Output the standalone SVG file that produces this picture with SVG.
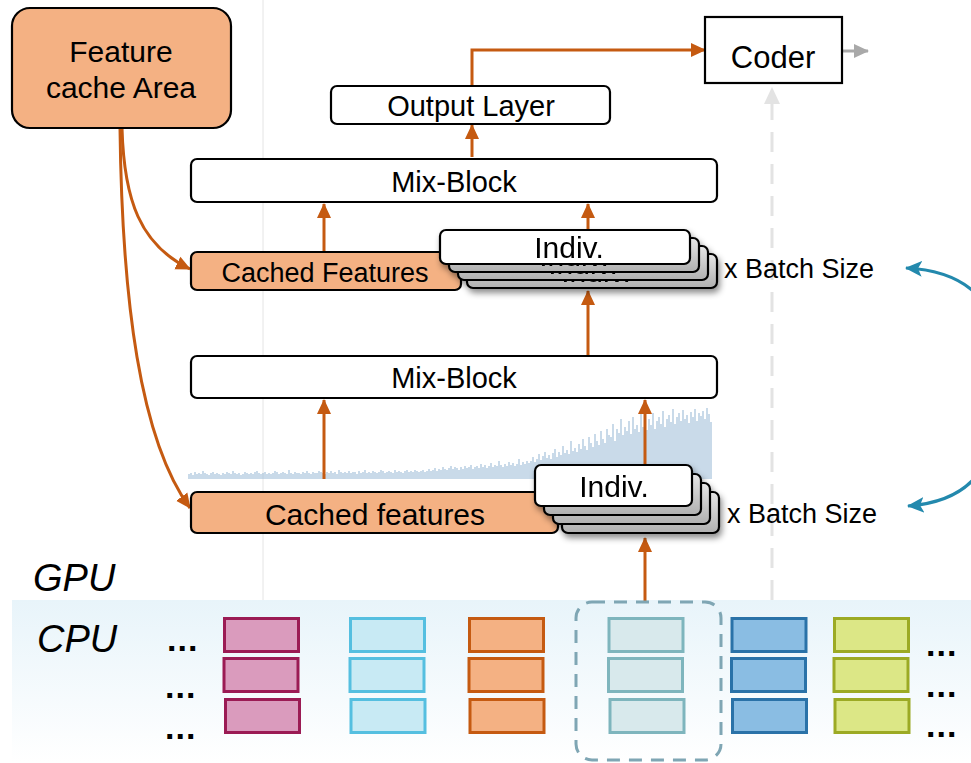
<svg xmlns="http://www.w3.org/2000/svg" width="971" height="763" viewBox="0 0 971 763">
  <defs>
    <style>
      .lbl { font-family: "Liberation Sans", Arial, sans-serif; fill: #000; text-anchor: middle; }
      .lft { font-family: "Liberation Sans", Arial, sans-serif; fill: #000; text-anchor: start; }
      .box { fill: #fff; stroke: #000; stroke-width: 2.2; }
      .cache { fill: #F4B183; stroke: #000; stroke-width: 2.2; }
      .card { stroke: #000; stroke-width: 2.2; }
      .flow { fill: none; stroke: #C55A11; stroke-width: 3; }
      .sync { fill: none; stroke: #2389AD; stroke-width: 3.2; }
      .dots { font-family: "Liberation Sans", Arial, sans-serif; font-weight: bold; font-size: 34px; fill: #000; letter-spacing: 1px; }
      .side { font-family: "Liberation Sans", Arial, sans-serif; font-style: italic; font-size: 38px; fill: #000; }
      .mem { stroke-width: 3; }
    </style>
    <marker id="ah" markerUnits="userSpaceOnUse" markerWidth="16" markerHeight="16" viewBox="0 0 16 16" refX="14" refY="8" orient="auto">
      <path d="M0 1 L15 8 L0 15 Z" fill="#C55A11"/>
    </marker>
    <marker id="ahTeal" markerUnits="userSpaceOnUse" markerWidth="18" markerHeight="18" viewBox="0 0 18 18" refX="16" refY="9" orient="auto">
      <path d="M0 1 L17 9 L0 17 L4 9 Z" fill="#2389AD"/>
    </marker>
    <marker id="ahGray" markerUnits="userSpaceOnUse" markerWidth="16" markerHeight="16" viewBox="0 0 16 16" refX="14" refY="8" orient="auto">
      <path d="M0 1 L15 8 L0 15 Z" fill="#a9a9a9"/>
    </marker>
    <marker id="ahLight" markerUnits="userSpaceOnUse" markerWidth="18" markerHeight="18" viewBox="0 0 18 18" refX="16" refY="9" orient="auto">
      <path d="M0 1 L17 9 L0 17 Z" fill="#e3e3e3"/>
    </marker>
    <linearGradient id="cpuBand" x1="0" y1="0" x2="0" y2="1">
      <stop offset="0" stop-color="#e8f4fa"/>
      <stop offset="1" stop-color="#ffffff"/>
    </linearGradient>
    <linearGradient id="cardGray" x1="0" y1="0" x2="0" y2="1">
      <stop offset="0" stop-color="#e6e6e6"/>
      <stop offset="1" stop-color="#b0b0b0"/>
    </linearGradient>
    <filter id="shadow" x="-20%" y="-30%" width="140%" height="180%">
      <feDropShadow dx="2" dy="4" stdDeviation="3" flood-color="#000" flood-opacity="0.45"/>
    </filter>
  </defs>

  <!-- CPU memory band -->
  <rect x="12" y="600" width="959" height="163" fill="url(#cpuBand)"/>

  <!-- thin guide line -->
  <line x1="263" y1="0" x2="263" y2="600" stroke="#e4e4e4" stroke-width="1"/>

  <!-- dashed feedback line into the coder -->
  <line x1="772" y1="600" x2="772" y2="88" stroke="#e3e3e3" stroke-width="3" stroke-dasharray="20 12" marker-end="url(#ahLight)"/>

  <!-- access frequency histogram -->
  <path id="histogram" fill="none" stroke="#9dbcd7" stroke-width="1.1" d="M189 479v-5m2 5v-6m2 6v-4m2 4v-7m2 7v-5m2 5v-6m2 6v-5m2 5v-8m2 8v-6m2 6v-5m2 5v-4m2 4v-6m2 6v-7m2 7v-5m2 5v-6m2 6v-5m2 5v-4m2 4v-6m2 6v-5m2 5v-7m2 7v-6m2 6v-5m2 5v-8m2 8v-6m2 6v-5m2 5v-6m2 6v-4m2 4v-5m2 5v-7m2 7v-6m2 6v-5m2 5v-6m2 6v-5m2 5v-7m2 7v-8m2 8v-6m2 6v-5m2 5v-6m2 6v-7m2 7v-5m2 5v-6m2 6v-5m2 5v-6m2 6v-8m2 8v-7m2 7v-5m2 5v-6m2 6v-7m2 7v-6m2 6v-5m2 5v-9m2 9v-6m2 6v-5m2 5v-7m2 7v-6m2 6v-6m2 6v-5m2 5v-7m2 7v-6m2 6v-8m2 8v-6m2 6v-5m2 5v-7m2 7v-6m2 6v-6m2 6v-8m2 8v-7m2 7v-6m2 6v-5m2 5v-7m2 7v-6m2 6v-8m2 8v-6m2 6v-7m2 7v-5m2 5v-9m2 9v-7m2 7v-6m2 6v-7m2 7v-6m2 6v-8m2 8v-6m2 6v-7m2 7v-7m2 7v-5m2 5v-8m2 8v-6m2 6v-7m2 7v-9m2 9v-6m2 6v-7m2 7v-6m2 6v-8m2 8v-7m2 7v-6m2 6v-7m2 7v-9m2 9v-8m2 8v-6m2 6v-7m2 7v-8m2 8v-7m2 7v-6m2 6v-9m2 9v-7m2 7v-8m2 8v-7m2 7v-6m2 6v-8m2 8v-9m2 9v-7m2 7v-8m2 8v-7m2 7v-9m2 9v-8m2 8v-7m2 7v-8m2 8v-9m2 9v-7m2 7v-8m2 8v-10m2 10v-8m2 8v-9m2 9v-11m2 11v-8m2 8v-10m2 10v-9m2 9v-12m2 12v-10m2 10v-9m2 9v-11m2 11v-13m2 13v-10m2 10v-12m2 12v-11m2 11v-9m2 9v-12m2 12v-10m2 10v-13m2 13v-11m2 11v-12m2 12v-14m2 14v-10m2 10v-12m2 12v-13m2 13v-11m2 11v-15m2 15v-12m2 12v-14m2 14v-11m2 11v-13m2 13v-16m2 16v-12m2 12v-14m2 14v-13m2 13v-18m2 18v-14m2 14v-12m2 12v-15m2 15v-13m2 13v-17m2 17v-14m2 14v-16m2 16v-13m2 13v-15m2 15v-20m2 20v-14m2 14v-17m2 17v-15m2 15v-18m2 18v-16m2 16v-18m2 18v-22m2 22v-17m2 17v-20m2 20v-25m2 25v-19m2 19v-23m2 23v-27m2 27v-21m2 21v-24m2 24v-20m2 20v-26m2 26v-30m2 30v-22m2 22v-27m2 27v-24m2 24v-33m2 33v-26m2 26v-29m2 29v-25m2 25v-38m2 38v-28m2 28v-31m2 31v-27m2 27v-35m2 35v-30m2 30v-40m2 40v-33m2 33v-29m2 29v-42m2 42v-36m2 36v-32m2 32v-45m2 45v-38m2 38v-34m2 34v-48m2 48v-40m2 40v-36m2 36v-50m2 50v-44m2 44v-42m2 42v-55m2 55v-38m2 38v-50m2 50v-46m2 46v-60m2 60v-44m2 44v-52m2 52v-48m2 48v-58m2 58v-45m2 45v-62m2 62v-50m2 50v-54m2 54v-47m2 47v-65m2 65v-52m2 52v-57m2 57v-49m2 49v-60m2 60v-54m2 54v-66m2 66v-50m2 50v-58m2 58v-62m2 62v-55m2 55v-68m2 68v-52m2 52v-60m2 60v-64m2 64v-57m2 57v-70m2 70v-55m2 55v-62m2 62v-66m2 66v-58m2 58v-69m2 69v-60m2 60v-64m2 64v-56m2 56v-67m2 67v-62m2 62v-70m2 70v-58m2 58v-66m2 66v-63m2 63v-68m2 68v-60m2 60v-71m2 71v-65m2 65v-57"/>

  <!-- connectors -->
  <g id="connectors">
    <path class="flow" d="M122 128 C 124 200, 140 245, 190 269" marker-end="url(#ah)"/>
    <path class="flow" d="M120 128 C 122 300, 140 440, 190 508" marker-end="url(#ah)"/>
    <path class="flow" d="M472 85 V 50 H 705" marker-end="url(#ah)"/>
    <line class="flow" x1="472" y1="157" x2="472" y2="125" marker-end="url(#ah)"/>
    <line class="flow" x1="324" y1="252" x2="324" y2="204" marker-end="url(#ah)"/>
    <line class="flow" x1="588" y1="232" x2="588" y2="204" marker-end="url(#ah)"/>
    <line class="flow" x1="588" y1="356" x2="588" y2="291" marker-end="url(#ah)"/>
    <line class="flow" x1="324" y1="479" x2="324" y2="400" marker-end="url(#ah)"/>
    <line class="flow" x1="645" y1="466" x2="645" y2="400" marker-end="url(#ah)"/>
    <line class="flow" x1="645" y1="601" x2="645" y2="538" marker-end="url(#ah)"/>
    <line x1="840" y1="51" x2="868" y2="51" stroke="#a9a9a9" stroke-width="3" marker-end="url(#ahGray)"/>
    <path class="sync" d="M972 290 Q 948 270 906 268" marker-end="url(#ahTeal)"/>
    <path class="sync" d="M972 481 Q 950 503 908 506" marker-end="url(#ahTeal)"/>
  </g>

  <!-- feature cache -->
  <g id="feature-cache">
    <rect class="cache" x="12" y="8" width="219" height="120" rx="18"/>
    <text class="lbl" x="121" y="62" font-size="30">Feature</text>
    <text class="lbl" x="121" y="98" font-size="30">cache Area</text>
  </g>

  <!-- coder -->
  <g id="coder">
    <rect class="box" x="705" y="17" width="137" height="66"/>
    <text class="lbl" x="773" y="68" font-size="31">Coder</text>
  </g>

  <!-- output layer -->
  <g id="output-layer">
    <rect class="box" x="331" y="86" width="279" height="38" rx="6"/>
    <text class="lbl" x="471" y="116" font-size="29">Output Layer</text>
  </g>

  <!-- mix blocks -->
  <g id="mix-block-2">
    <rect class="box" x="191" y="159" width="526" height="43" rx="6"/>
    <text class="lbl" x="454" y="192" font-size="29">Mix-Block</text>
  </g>
  <g id="mix-block-1">
    <rect class="box" x="191" y="356" width="526" height="42" rx="6"/>
    <text class="lbl" x="454" y="388" font-size="29">Mix-Block</text>
  </g>

  <!-- cached features, upper level -->
  <g id="cached-upper">
    <rect class="cache" x="191" y="252" width="270" height="38" rx="6"/>
    <text class="lbl" x="325" y="282" font-size="27">Cached Features</text>
  </g>

  <!-- individual features, upper level -->
  <g id="indiv-upper" filter="url(#shadow)">
    <rect class="card" fill="url(#cardGray)" x="467" y="254" width="250" height="34" rx="6"/>
    <text class="lbl" x="596" y="282" font-size="30">Indiv.</text>
    <rect class="card" fill="url(#cardGray)" x="458" y="246" width="250" height="34" rx="6"/>
    <text class="lbl" x="583" y="274" font-size="30">Indiv.</text>
    <rect class="card" fill="url(#cardGray)" x="449" y="238" width="250" height="34" rx="6"/>
    <text class="lbl" x="574" y="266" font-size="30">Indiv.</text>
    <rect class="card" fill="#fff" x="440" y="230" width="250" height="34" rx="6"/>
    <text class="lbl" x="569" y="258" font-size="30">Indiv.</text>
  </g>
  <text class="lft" x="724" y="278" font-size="27">x Batch Size</text>

  <!-- cached features, lower level -->
  <g id="cached-lower">
    <rect class="cache" x="191" y="492" width="367" height="41" rx="6"/>
    <text class="lbl" x="375" y="525" font-size="30">Cached features</text>
  </g>

  <!-- individual features, lower level -->
  <g id="indiv-lower" filter="url(#shadow)">
    <rect class="card" fill="url(#cardGray)" x="562" y="492" width="157" height="41" rx="6"/>
    <text class="lbl" x="640" y="524" font-size="30">Indiv.</text>
    <rect class="card" fill="url(#cardGray)" x="553" y="483" width="157" height="41" rx="6"/>
    <text class="lbl" x="631" y="515" font-size="30">Indiv.</text>
    <rect class="card" fill="url(#cardGray)" x="544" y="474" width="157" height="41" rx="6"/>
    <text class="lbl" x="622" y="506" font-size="30">Indiv.</text>
    <rect class="card" fill="#fff" x="535" y="465" width="157" height="41" rx="6"/>
    <text class="lbl" x="614" y="497" font-size="30">Indiv.</text>
  </g>
  <text class="lft" x="727" y="523" font-size="27">x Batch Size</text>

  <!-- device labels -->
  <text class="side" x="33" y="591">GPU</text>
  <text class="side" x="37" y="652">CPU</text>

  <!-- continuation marks -->
  <text class="dots" x="167" y="651">...</text>
  <text class="dots" x="165" y="698">...</text>
  <text class="dots" x="165" y="739">...</text>
  <text class="dots" x="926" y="656">...</text>
  <text class="dots" x="926" y="697">...</text>
  <text class="dots" x="926" y="737">...</text>

  <!-- CPU memory pages -->
  <g id="mem-pink" class="mem" fill="#DA9BBD" stroke="#9B1B54">
    <rect x="224.5" y="618.5" width="74" height="33"/>
    <rect x="224" y="658.5" width="74" height="33"/>
    <rect x="225.5" y="699.5" width="74" height="33"/>
  </g>
  <g id="mem-lightblue" class="mem" fill="#C8EAF4" stroke="#55BFE0">
    <rect x="350.5" y="618.5" width="74" height="33"/>
    <rect x="350" y="658.5" width="74" height="33"/>
    <rect x="351" y="699.5" width="74" height="33"/>
  </g>
  <g id="mem-orange" class="mem" fill="#F4B183" stroke="#C55A11">
    <rect x="469.5" y="618.5" width="74" height="33"/>
    <rect x="469" y="658.5" width="74" height="33"/>
    <rect x="470" y="699.5" width="74" height="33"/>
  </g>
  <g id="mem-selected" class="mem" fill="#D8E9EC" stroke="#7EB5BD">
    <rect x="609" y="618.5" width="74" height="33"/>
    <rect x="608.5" y="658.5" width="74" height="33"/>
    <rect x="610" y="699.5" width="74" height="33"/>
    <rect x="576" y="602" width="145" height="158" rx="16" fill="none" stroke="#7FA6B4" stroke-dasharray="13 9"/>
  </g>
  <g id="mem-blue" class="mem" fill="#8ABDE3" stroke="#2A72A8">
    <rect x="732" y="618.5" width="74" height="33"/>
    <rect x="731.5" y="658.5" width="74" height="33"/>
    <rect x="732.5" y="699.5" width="74" height="33"/>
  </g>
  <g id="mem-green" class="mem" fill="#DCE786" stroke="#9CAA24">
    <rect x="834.5" y="618.5" width="74" height="33"/>
    <rect x="834" y="658.5" width="74" height="33"/>
    <rect x="835" y="699.5" width="74" height="33"/>
  </g>
</svg>
